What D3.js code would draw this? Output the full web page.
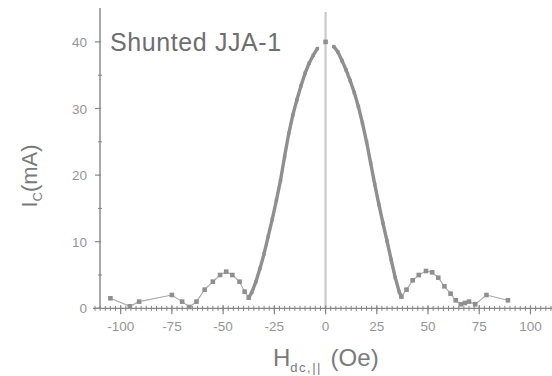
<!DOCTYPE html>
<html><head><meta charset="utf-8">
<script src="https://cdn.jsdelivr.net/npm/d3@7"></script>
<style>body{margin:0;background:#fff}svg{display:block}text{font-family:"Liberation Sans",Arial,sans-serif}</style>
</head><body>
<svg id="c" width="552" height="376"></svg>
<script>
const fieldOe = [-105,-95.5,-91,-75,-70,-66.5,-63,-59,-55,-51.5,-48.5,-45.5,-42,-39.5,-37.5,
  -36,-34,-32,-30,-28,-26,-24,-22,-20,-18,-16,-14,-12,-10,-8,-6,-4,
  0,
  4,6,8,10,12,14,16,18,20,22,24,26,28,30,32,34,36,37,
  39.5,42.5,45.5,49,52,55,58,61,63.5,66,68,70,73,78.5,89];
const currentMA = [1.5,0.3,1.0,2.0,1.0,0.2,1.0,2.8,4.0,5.0,5.5,5.0,4.0,2.5,1.6,
  2.4,4.0,6.0,8.2,10.8,13.4,16.2,19.2,22.8,26.2,29.0,31.3,33.4,35.3,36.8,38.0,39.0,
  40.0,
  39.3,38.5,37.2,35.8,34.2,32.4,30.3,27.8,25.0,21.8,18.6,15.6,12.8,10.1,7.3,4.6,2.4,1.75,
  2.8,4.2,5.0,5.6,5.4,4.6,3.3,2.2,1.2,0.6,0.8,1.0,0.6,2.0,1.2];
const xTicks = [-100,-75,-50,-25,0,25,50,75,100];
const yTicks = [0,10,20,30,40];
const sampleLabel = "Shunted JJA-1";

const data = fieldOe.map((h,i)=>({h, i: currentMA[i]}));
const svg = d3.select("#c");
const x = d3.scaleLinear().domain([-113.5, 110.5]).range([93, 552]);
const y = d3.scaleLinear().domain([0, 45]).range([308.3, 8.6]);
const axisCol = "#858585", labCol = "#959595";

// vertical zero line
svg.append("line").attr("x1", x(0)).attr("x2", x(0)).attr("y1", 12).attr("y2", y(0))
  .attr("stroke", "#c9c9c9").attr("stroke-width", 2.2);

// x axis
const xAxisG = svg.append("g");
xAxisG.append("line").attr("x1", 93).attr("x2", 552).attr("y1", y(0)).attr("y2", y(0))
  .attr("stroke", axisCol).attr("stroke-width", 1.3);
const minorX = d3.range(-112.5, 111, 2.5);
xAxisG.selectAll(".mx").data(minorX).join("line")
  .attr("x1", d=>x(d)).attr("x2", d=>x(d)).attr("y1", y(0)-2.5).attr("y2", y(0)+2.5)
  .attr("stroke", axisCol).attr("stroke-width", 1);
xAxisG.selectAll(".Mx").data(xTicks).join("line")
  .attr("x1", d=>x(d)).attr("x2", d=>x(d)).attr("y1", y(0)-3).attr("y2", y(0)+6)
  .attr("stroke", axisCol).attr("stroke-width", 1.2);
xAxisG.selectAll(".xl").data(xTicks).join("text")
  .attr("x", d=>x(d)).attr("y", 331).attr("text-anchor","middle")
  .attr("font-size", 13.5).attr("fill", labCol).text(d=>d);

// y axis
const yAxisG = svg.append("g");
yAxisG.append("line").attr("x1", 100).attr("x2", 100).attr("y1", 8).attr("y2", y(0))
  .attr("stroke", axisCol).attr("stroke-width", 1.4);
yAxisG.selectAll(".my").data(d3.range(5, 45, 10)).join("line")
  .attr("x1", 98).attr("x2", 102).attr("y1", d=>y(d)).attr("y2", d=>y(d))
  .attr("stroke", axisCol).attr("stroke-width", 1);
yAxisG.selectAll(".My").data(yTicks).join("line")
  .attr("x1", 95).attr("x2", 101).attr("y1", d=>y(d)).attr("y2", d=>y(d))
  .attr("stroke", axisCol).attr("stroke-width", 1.2);
yAxisG.selectAll(".yl").data(yTicks).join("text")
  .attr("x", 87).attr("y", d=>y(d)+5).attr("text-anchor","end")
  .attr("font-size", 13.5).attr("fill", labCol).text(d=>d);

// data
const line = d3.line().x(d=>x(d.h)).y(d=>y(d.i)).defined(d=>Math.abs(d.h) > 1);
svg.append("path").datum(data).attr("d", line).attr("fill","none")
  .attr("stroke", "#a8a8a8").attr("stroke-width", 1.1);
svg.append("path").datum(data.map(d=>Math.abs(d.h) <= 38 ? d : {h:0,i:NaN}))
  .attr("d", d3.line().x(d=>x(d.h)).y(d=>y(d.i)).defined(d=>!isNaN(d.i) && Math.abs(d.h)>1))
  .attr("fill","none").attr("stroke", "#8f8f8f").attr("stroke-width", 3.4)
  .attr("stroke-linejoin","round");
const ms = d => Math.abs(d.h) <= 36 && Math.abs(d.h) > 1 ? 3.4 : 4.6;
svg.selectAll(".pt").data(data).join("rect")
  .attr("x", d=>x(d.h)-ms(d)/2).attr("y", d=>y(d.i)-ms(d)/2)
  .attr("width", ms).attr("height", ms)
  .attr("fill", "#8f8f8f");

// titles
svg.append("text").attr("x", 110).attr("y", 51).attr("font-size", 25)
  .attr("letter-spacing", 0.6).attr("fill", "#6e6e6e").text(sampleLabel);
const yl = svg.append("text").attr("transform", "translate(37,176) rotate(-90)")
  .attr("text-anchor","middle").attr("font-size", 22).attr("fill", "#7a7a7a");
yl.append("tspan").text("I");
yl.append("tspan").attr("font-size", 13).attr("dy", 5).text("C");
yl.append("tspan").attr("dy", -5).text("(mA)");
const xl = svg.append("text").attr("x", 273).attr("y", 366)
  .attr("font-size", 24).attr("fill", "#7a7a7a");
xl.append("tspan").text("H");
xl.append("tspan").attr("font-size", 13).attr("dy", 6).attr("letter-spacing", 1.5).text("dc,||");
xl.append("tspan").attr("dy", -6).attr("dx", 2).text(" (Oe)");
</script>
</body></html>
